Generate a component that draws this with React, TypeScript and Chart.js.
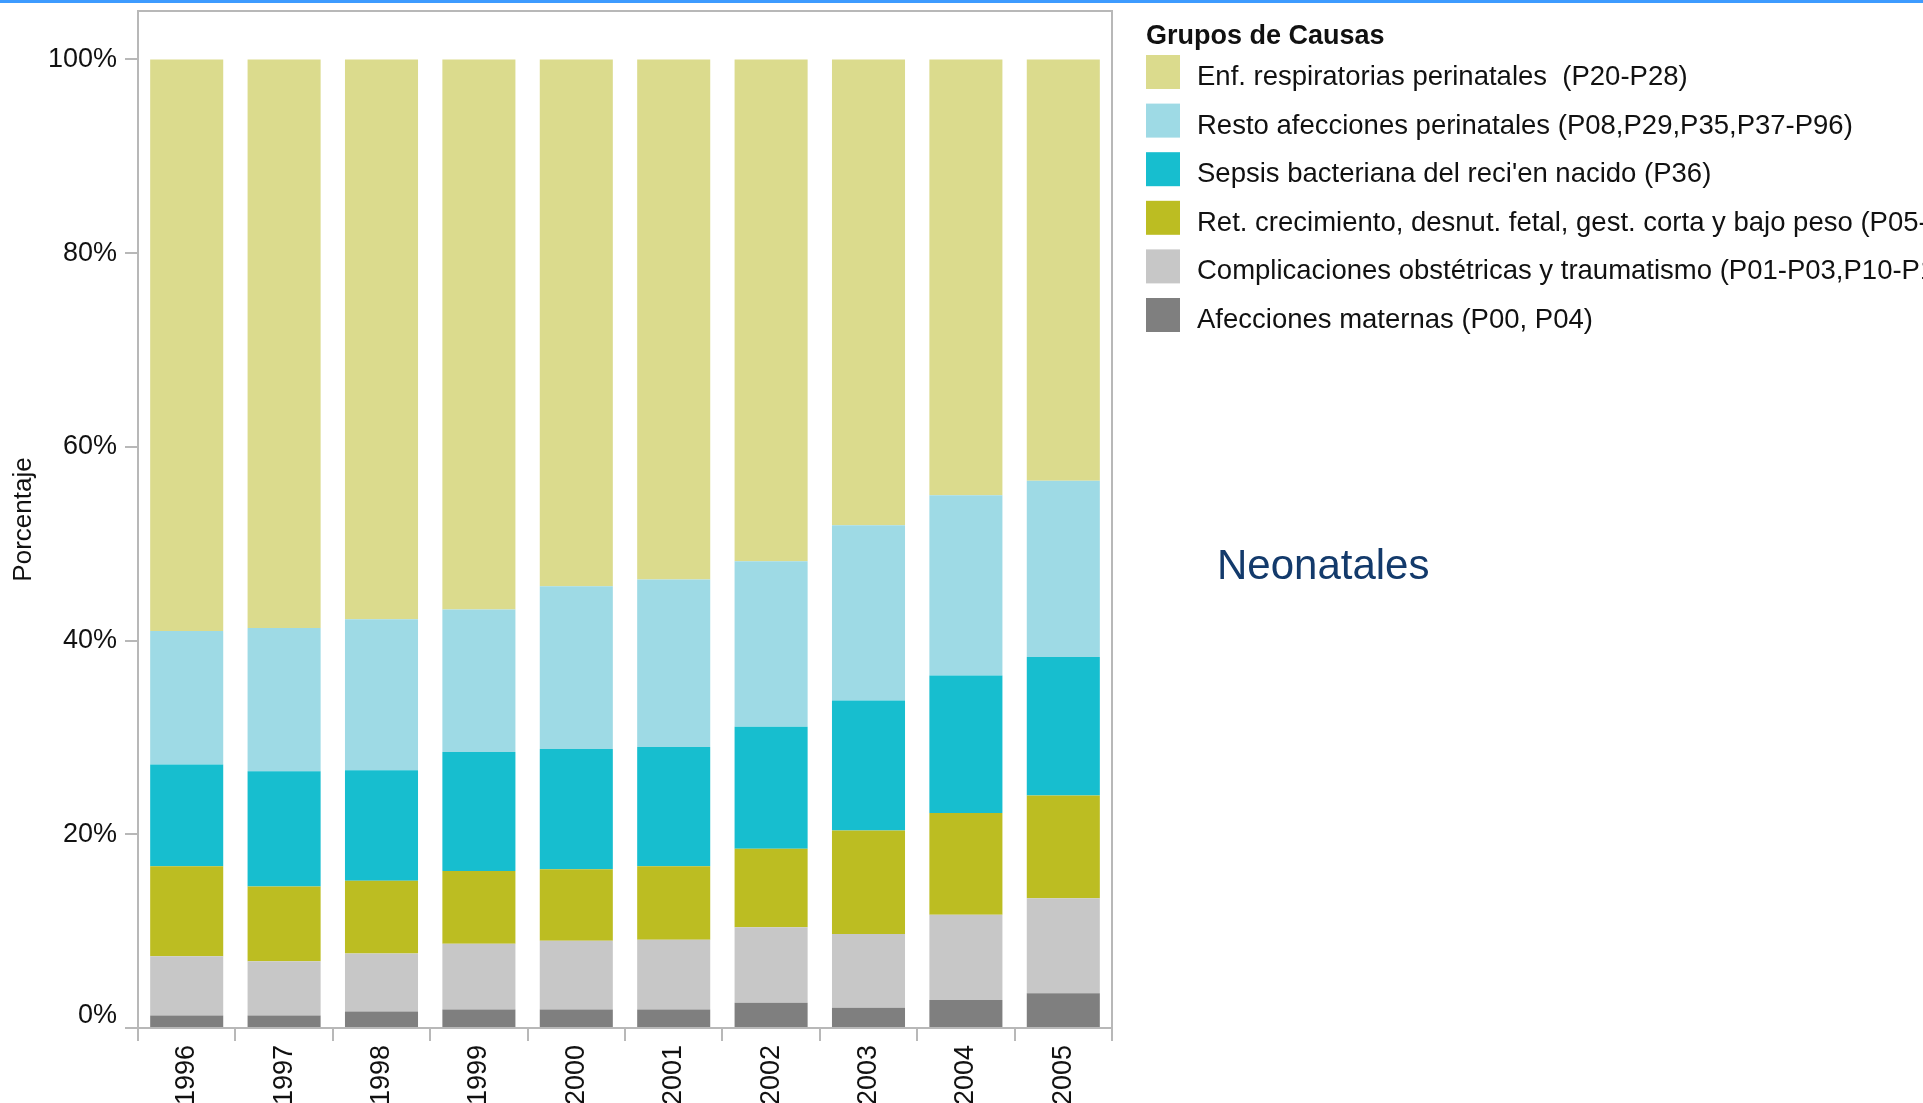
import React, { useEffect, useRef } from 'react';
import { Chart, registerables } from 'chart.js';

Chart.register(...registerables);

// ---------- Data ----------
const years = ['1996', '1997', '1998', '1999', '2000', '2001', '2002', '2003', '2004', '2005'];

// Percentages (stacked from bottom to top)
const afeccionesMaternas = [1.3, 1.3, 1.7, 1.9, 1.9, 1.9, 2.6, 2.1, 2.9, 3.6];
const complicacionesObstetricas = [6.1, 5.6, 6.0, 6.8, 7.1, 7.2, 7.8, 7.6, 8.8, 9.8];
const retCrecimiento = [9.3, 7.7, 7.5, 7.5, 7.4, 7.6, 8.1, 10.7, 10.5, 10.6];
const sepsisBacteriana = [10.5, 11.9, 11.4, 12.3, 12.4, 12.3, 12.6, 13.4, 14.2, 14.3];
const restoAfecciones = [13.8, 14.8, 15.6, 14.7, 16.8, 17.3, 17.1, 18.1, 18.6, 18.2];
const enfRespiratorias = [59.0, 58.7, 57.8, 56.8, 54.4, 53.7, 51.8, 48.1, 45.0, 43.5];

const seriesLabels = [
  'Afecciones maternas (P00, P04)',
  'Complicaciones obstétricas y traumatismo (P01-P03,P10-P15)',
  'Ret. crecimiento, desnut. fetal, gest. corta y bajo peso (P05-P07)',
  "Sepsis bacteriana del reci'en nacido (P36)",
  'Resto afecciones perinatales (P08,P29,P35,P37-P96)',
  'Enf. respiratorias perinatales  (P20-P28)',
];
const seriesColors = ['#7f7f7f', '#c7c7c7', '#bcbd22', '#17becf', '#9edae5', '#dbdb8d'];

const yTicks = [0, 20, 40, 60, 80, 100];
const legendTitle = 'Grupos de Causas';
const yAxisTitle = 'Porcentaje';
const sideLabel = 'Neonatales';

// ---------- Layout / style ----------
const W = 1923;
const H = 1103;
const FONT = '"Liberation Sans", Arial, Helvetica, sans-serif';
const AXIS_COLOR = '#b8b8b8';
const TEXT_COLOR = '#111111';

const decorPlugin = {
  id: 'decor',
  beforeDraw(chart: any) {
    const ctx = chart.ctx;
    ctx.save();
    ctx.fillStyle = '#ffffff';
    ctx.fillRect(0, 0, W, H);
    ctx.restore();
  },
  afterDatasetsDraw(chart: any) {
    const { ctx, chartArea } = chart;
    ctx.save();
    ctx.strokeStyle = AXIS_COLOR;
    ctx.lineWidth = 2;
    ctx.strokeRect(chartArea.left, chartArea.top, chartArea.right - chartArea.left, chartArea.bottom - chartArea.top);
    ctx.restore();
  },
  afterDraw(chart: any) {
    const { ctx } = chart;
    ctx.save();
    // top blue line
    ctx.fillStyle = '#3d9bff';
    ctx.fillRect(0, 0, W, 3);

    // legend
    ctx.textAlign = 'left';
    ctx.textBaseline = 'alphabetic';
    ctx.fillStyle = TEXT_COLOR;
    ctx.font = `bold 27px ${FONT}`;
    ctx.fillText(legendTitle, 1146, 44);
    const ds = chart.data.datasets.slice().reverse();
    ctx.font = `27.5px ${FONT}`;
    ds.forEach((d: any, i: number) => {
      const top = 55 + i * 48.6;
      ctx.fillStyle = d.backgroundColor;
      ctx.fillRect(1146, top, 34, 34);
      ctx.fillStyle = TEXT_COLOR;
      ctx.fillText(d.label, 1197, top + 30);
    });

    // side label
    ctx.fillStyle = '#133a6b';
    ctx.font = `42px ${FONT}`;
    ctx.fillText(sideLabel, 1217, 579);
    ctx.restore();
  },
};

export default function App() {
  const ref = useRef<HTMLCanvasElement | null>(null);

  useEffect(() => {
    if (!ref.current) return;
    const seriesData = [
      afeccionesMaternas,
      complicacionesObstetricas,
      retCrecimiento,
      sepsisBacteriana,
      restoAfecciones,
      enfRespiratorias,
    ];
    const chart = new Chart(ref.current, {
      type: 'bar',
      data: {
        labels: years,
        datasets: seriesData.map((d, i) => ({
          label: seriesLabels[i],
          data: d,
          backgroundColor: seriesColors[i],
          borderWidth: 0,
          categoryPercentage: 1,
          barPercentage: 0.75,
        })),
      },
      options: {
        animation: false,
        responsive: false,
        devicePixelRatio: 1,
        layout: { padding: { top: 11, right: W - 1112, left: 0, bottom: 0 } },
        plugins: {
          legend: { display: false },
          tooltip: { enabled: false },
          title: { display: false },
        },
        scales: {
          x: {
            stacked: true,
            offset: true,
            grid: {
              display: true,
              offset: true,
              drawOnChartArea: false,
              drawTicks: true,
              tickLength: 13,
              color: AXIS_COLOR,
              lineWidth: 2,
            },
            border: { display: true, color: AXIS_COLOR, width: 2 },
            ticks: {
              autoSkip: false,
              minRotation: 90,
              maxRotation: 90,
              padding: 4,
              color: TEXT_COLOR,
              font: { family: FONT, size: 27 },
            },
            afterFit: (s: any) => {
              s.height = H - 1028;
              s.paddingLeft = 0;
              s.paddingRight = 0;
            },
          },
          y: {
            stacked: true,
            min: 0,
            max: 105,
            grid: {
              display: true,
              drawOnChartArea: false,
              drawTicks: true,
              tickLength: 13,
              color: AXIS_COLOR,
              lineWidth: 2,
            },
            border: { display: true, color: AXIS_COLOR, width: 2 },
            afterBuildTicks: (s: any) => {
              s.ticks = yTicks.map((v) => ({ value: v }));
            },
            ticks: {
              padding: 8,
              color: TEXT_COLOR,
              font: { family: FONT, size: 27, lineHeight: 0.9 },
              // the bottom label sits just above the axis line, as in the original
              callback: (v: any) => (v === yTicks[0] ? [`${v}%`, ''] : `${v}%`),
            },
            title: {
              display: true,
              text: yAxisTitle,
              color: TEXT_COLOR,
              font: { family: FONT, size: 26 },
              padding: { top: 8, bottom: 0 },
            },
            afterFit: (s: any) => {
              s.width = 138;
              s.paddingTop = 0;
              s.paddingBottom = 0;
            },
          },
        },
      },
      plugins: [decorPlugin],
    });
    return () => chart.destroy();
  }, []);

  return (
    <div style={{ position: 'fixed', left: 0, top: 0, width: W, height: H, background: '#fff', overflow: 'hidden' }}>
      <canvas ref={ref} width={W} height={H} style={{ display: 'block', width: W, height: H }} />
    </div>
  );
}
